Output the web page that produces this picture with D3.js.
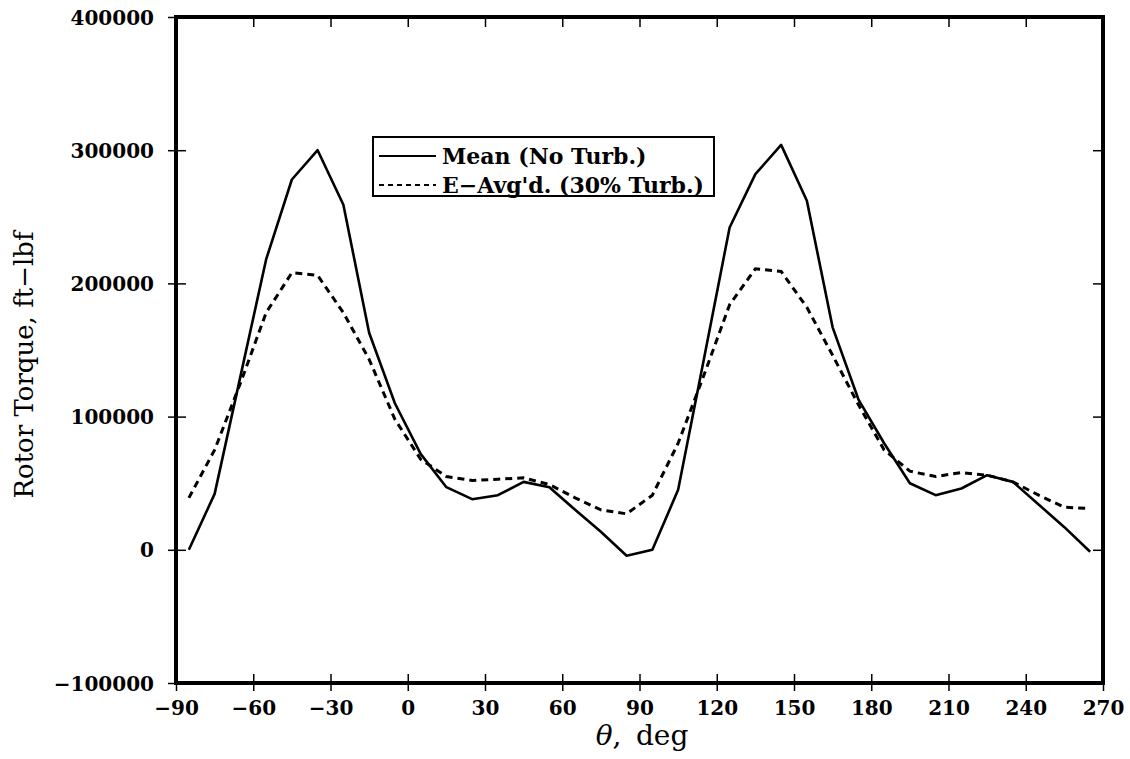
<!DOCTYPE html>
<html>
<head>
<meta charset="utf-8">
<script src="https://cdn.jsdelivr.net/npm/d3@7"></script>
<style>
  html, body { margin: 0; padding: 0; background: #fff; }
  svg { display: block; }
  text { font-family: "DejaVu Serif", serif; fill: #000; }
</style>
</head>
<body>
<svg id="chart" width="1130" height="759"></svg>
<script>
// ---- data ----
const theta = [-85,-75,-65,-55,-45,-35,-25,-15,-5,5,15,25,35,45,55,65,75,85,95,105,115,125,135,145,155,165,175,185,195,205,215,225,235,245,255,265];
const meanNoTurb = [0,42000,130000,218000,278000,300000,259000,163000,110000,72000,47000,38000,41000,51000,47000,30000,13500,-4500,0,45000,143000,242000,282000,304000,262000,167000,113000,80000,50000,41000,46000,56000,51000,34000,17000,-1500];
const eAvg30Turb = [39000,75000,125000,178000,208000,206000,178000,143000,98000,68000,55000,52000,53000,54000,49000,39000,30000,27000,41000,80000,131000,184000,211000,209000,182000,146000,109000,75000,59000,55000,58000,56000,51000,41000,32000,31000];
const xTicks = [-90,-60,-30,0,30,60,90,120,150,180,210,240,270];
const yTicks = [-100000,0,100000,200000,300000,400000];
const seriesNames = ["Mean (No Turb.)", "E\u2212Avg'd. (30% Turb.)"];

// ---- layout ----
const svg = d3.select("#chart");
const L = 176, R = 1103, T = 17, B = 683;
const x = d3.scaleLinear().domain([-90, 270]).range([L, R]);
const y = d3.scaleLinear().domain([-100000, 400000]).range([B, T]);
const fmt = d => d < 0 ? "\u2212" + Math.abs(d) : d;

// frame
svg.append("rect").attr("x", L).attr("y", T).attr("width", R - L).attr("height", B - T)
  .attr("fill", "none").attr("stroke", "#000").attr("stroke-width", 4);

// bottom axis: ticks crossing the frame
const gx = svg.append("g").attr("transform", `translate(0,${B})`)
  .call(d3.axisBottom(x).tickValues(xTicks).tickSize(8).tickPadding(10).tickFormat(fmt));
gx.select(".domain").remove();
gx.selectAll(".tick line").attr("y1", -9).attr("y2", 8).attr("stroke-width", 1.5);
gx.selectAll(".tick text").attr("font-size", 20).attr("font-weight", "bold").attr("dy", "0.7em");

// left axis
const gy = svg.append("g").attr("transform", `translate(${L},0)`)
  .call(d3.axisLeft(y).tickValues(yTicks).tickSize(7).tickPadding(15).tickFormat(fmt));
gy.select(".domain").remove();
gy.selectAll(".tick line").attr("x1", -8).attr("x2", 10).attr("stroke-width", 1.5);
gy.selectAll(".tick text").attr("font-size", 20).attr("font-weight", "bold").attr("dy", "0.35em");

// top ticks (inward)
const gt = svg.append("g").attr("transform", `translate(0,${T})`)
  .call(d3.axisBottom(x).tickValues(xTicks).tickSize(10).tickFormat(""));
gt.select(".domain").remove();
gt.selectAll(".tick line").attr("stroke-width", 1.5);

// right ticks (inward)
const gr = svg.append("g").attr("transform", `translate(${R},0)`)
  .call(d3.axisLeft(y).tickValues(yTicks).tickSize(10).tickFormat(""));
gr.select(".domain").remove();
gr.selectAll(".tick line").attr("stroke-width", 1.5);

// lines
const line = d3.line().x(d => x(d[0])).y(d => y(d[1]));
svg.append("path").datum(theta.map((t, i) => [t, meanNoTurb[i]]))
  .attr("d", line).attr("fill", "none").attr("stroke", "#000")
  .attr("stroke-width", 2.6).attr("stroke-linejoin", "round");
svg.append("path").datum(theta.map((t, i) => [t, eAvg30Turb[i]]))
  .attr("d", line).attr("fill", "none").attr("stroke", "#000")
  .attr("stroke-width", 3).attr("stroke-dasharray", "7,5");

// legend
const lg = svg.append("g");
lg.append("rect").attr("x", 373).attr("y", 137).attr("width", 341).attr("height", 59)
  .attr("fill", "#fff").attr("stroke", "#000").attr("stroke-width", 2);
lg.append("line").attr("x1", 379).attr("x2", 436).attr("y1", 156).attr("y2", 156)
  .attr("stroke", "#000").attr("stroke-width", 2);
lg.append("line").attr("x1", 379).attr("x2", 436).attr("y1", 185).attr("y2", 185)
  .attr("stroke", "#000").attr("stroke-width", 2).attr("stroke-dasharray", "5,4");
lg.append("text").attr("x", 442).attr("y", 164).attr("font-size", 22).attr("font-weight", "bold").text(seriesNames[0]);
lg.append("text").attr("x", 442).attr("y", 193).attr("font-size", 22).attr("font-weight", "bold").text(seriesNames[1]);

// axis titles
svg.append("text").attr("transform", "translate(33,365) rotate(-90)")
  .attr("text-anchor", "middle").attr("font-size", 26).text("Rotor Torque, ft\u2212lbf");
const xt = svg.append("text").attr("x", 642).attr("y", 745).attr("text-anchor", "middle").attr("font-size", 28);
xt.append("tspan").attr("font-style", "italic").text("\u03B8");
xt.append("tspan").text(",\u2009 deg");
</script>
</body>
</html>
